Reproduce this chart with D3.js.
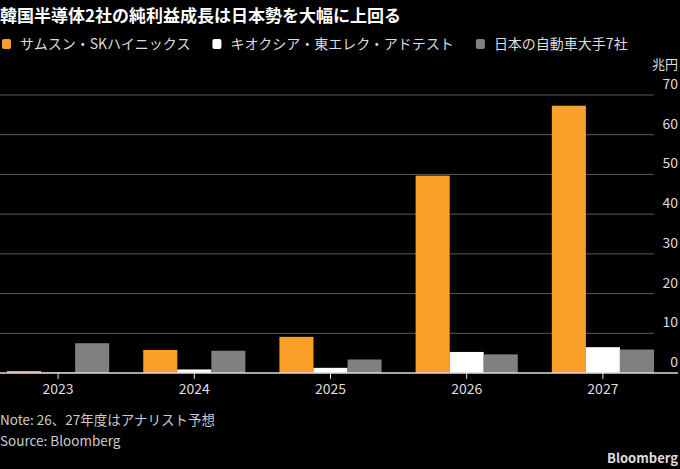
<!DOCTYPE html>
<html>
<head>
<meta charset="utf-8">
<script src="https://cdn.jsdelivr.net/npm/d3@7"></script>
<style>
  body { margin: 0; background: #000; }
  svg { display: block; font-family: "Noto Sans CJK JP", "Noto Sans", sans-serif; }
</style>
</head>
<body>
<script>
// chart data (兆円)
const YEARS = ['2023', '2024', '2025', '2026', '2027'];
const SERIES = ['サムスン・SKハイニックス', 'キオクシア・東エレク・アドテスト', '日本の自動車大手7社'];
const SAMSUNG_SK = [0.5, 5.8, 9.1, 49.7, 67.3];
const KIOXIA_TEL_ADV = [0.1, 0.9, 1.3, 5.3, 6.5];
const JP_AUTO = [7.5, 5.6, 3.4, 4.7, 5.9];
const Y_TICKS = [0, 10, 20, 30, 40, 50, 60, 70];

const WIDTH = 680;
const HEIGHT = 469;
const COLORS = ['#fba12a', '#ffffff', '#808080'];

const svg = d3.select('body')
  .append('svg')
    .attr('width', WIDTH)
    .attr('height', HEIGHT);

// title
svg.append('text')
    .attr('x', 0)
    .attr('y', 22)
    .attr('fill', '#fff')
    .style('font-size', '17px')
    .style('font-weight', 'bold')
    .text('韓国半導体2社の純利益成長は日本勢を大幅に上回る');

// legend
let lx = 2;
SERIES.forEach((name, i) => {
  svg.append('rect')
      .attr('x', lx)
      .attr('y', 39)
      .attr('width', 9)
      .attr('height', 10)
      .attr('rx', 2)
      .attr('fill', COLORS[i]);
  const t = svg.append('text')
      .attr('x', lx + 18)
      .attr('y', 49)
      .attr('fill', '#ddd')
      .style('font-size', '14px')
      .text(name);
  lx += 18 + t.node().getComputedTextLength() + 22;
});

// scales
const x0 = d3.scaleBand()
    .domain(YEARS)
    .range([-10, 671])
    .paddingInner(0.25)
    .paddingOuter(0.125);

const x1 = d3.scaleBand()
    .domain(d3.range(SERIES.length))
    .range([0, x0.bandwidth()]);

const y = d3.scaleLinear()
    .domain([0, 70])
    .range([373, 95]);

// gridlines and y labels
const yAxis = svg.append('g').attr('class', 'y-axis');
yAxis.selectAll('line')
  .data(Y_TICKS.filter(d => d > 0))
  .enter()
  .append('line')
    .attr('x1', 0)
    .attr('x2', 654)
    .attr('y1', d => y(d))
    .attr('y2', d => y(d))
    .attr('stroke', '#5a5a5a')
    .attr('stroke-width', 1);

yAxis.selectAll('text')
  .data(Y_TICKS)
  .enter()
  .append('text')
    .attr('x', 678)
    .attr('y', d => y(d) - 6)
    .attr('text-anchor', 'end')
    .attr('fill', '#ddd')
    .style('font-size', '14px')
    .text(d => d);

svg.append('text')
    .attr('x', 678)
    .attr('y', 69)
    .attr('text-anchor', 'end')
    .attr('fill', '#ddd')
    .style('font-size', '13px')
    .text('兆円');

// bars
const rows = YEARS.map((yr, i) => ({
  year: yr,
  values: [SAMSUNG_SK[i], KIOXIA_TEL_ADV[i], JP_AUTO[i]]
}));

svg.append('g')
  .selectAll('g')
  .data(rows)
  .enter()
  .append('g')
    .attr('transform', d => `translate(${x0(d.year)},0)`)
  .selectAll('rect')
  .data(d => d.values)
  .enter()
  .append('rect')
    .attr('x', (d, i) => x1(i))
    .attr('y', d => y(d))
    .attr('width', x1.bandwidth())
    .attr('height', d => y(0) - y(d))
    .attr('fill', (d, i) => COLORS[i]);

// x axis
const xAxis = d3.axisBottom(x0)
    .tickSize(6)
    .tickPadding(5);

const gx = svg.append('g')
    .attr('transform', `translate(0, ${y(0)})`)
    .call(xAxis);
gx.select('.domain').remove();
gx.selectAll('line').attr('stroke', '#ddd');
gx.selectAll('text')
    .attr('fill', '#ddd')
    .style('font-size', '14px')
    .style('font-family', '"Noto Sans CJK JP", sans-serif');

svg.append('line')
    .attr('x1', 0)
    .attr('x2', 678)
    .attr('y1', y(0))
    .attr('y2', y(0))
    .attr('stroke', '#ddd')
    .attr('stroke-width', 1.5);

// notes
svg.append('text')
    .attr('x', 0)
    .attr('y', 425)
    .attr('fill', '#ccc')
    .style('font-size', '13.5px')
    .text('Note: 26、27年度はアナリスト予想');

svg.append('text')
    .attr('x', 0)
    .attr('y', 446)
    .attr('fill', '#ccc')
    .style('font-size', '13.5px')
    .text('Source: Bloomberg');

svg.append('text')
    .attr('x', 678)
    .attr('y', 463)
    .attr('text-anchor', 'end')
    .attr('fill', '#ddd')
    .style('font-size', '13px')
    .style('font-weight', 'bold')
    .text('Bloomberg');
</script>
</body>
</html>
